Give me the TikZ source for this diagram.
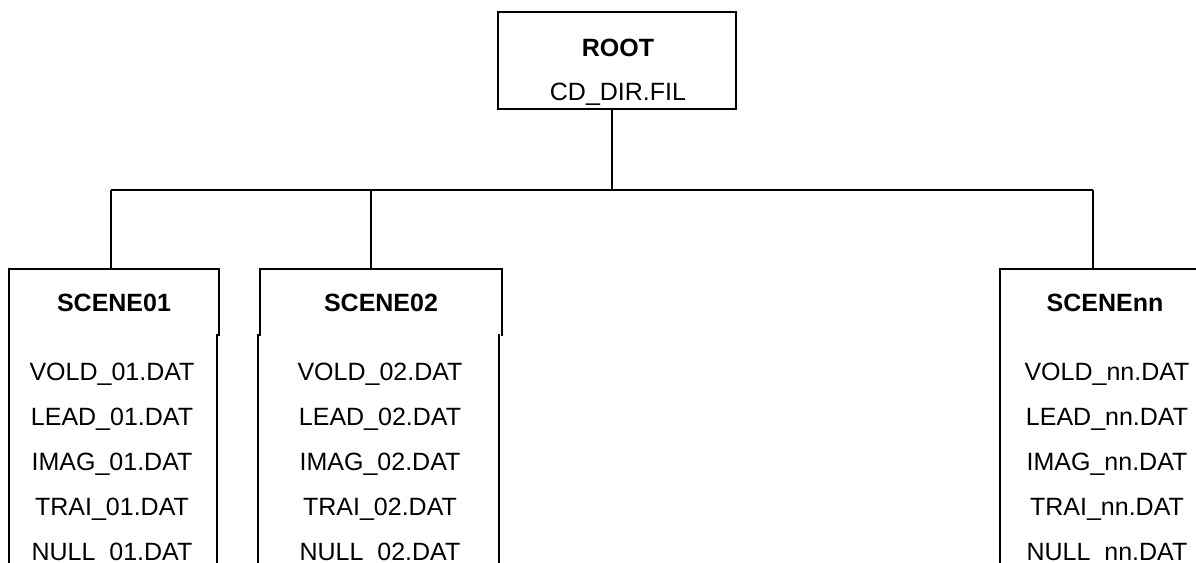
\documentclass[tikz,border=0pt]{standalone}
\usepackage{fontspec}
\setmainfont{Liberation Sans}
\usetikzlibrary{positioning}

\def\fs{\fontsize{12.5}{15}\selectfont}

\begin{document}
\begin{tikzpicture}[x=0.5pt, y=-0.5pt, line width=1.1pt,
  every node/.style={font=\fs, inner sep=0pt},
  hdr/.style={minimum height=32.5pt, font=\fs\bfseries},
  lst/.style={minimum height=120pt},
  txt/.style={anchor=base}]

  \useasboundingbox (0,0) rectangle (1196,563);

  % Root directory
  \node[draw, minimum width=119pt, minimum height=48.5pt] (root) at (617, 60.5) {};
  \node[txt, font=\fs\bfseries] (root-name) at (618, 56) {ROOT};
  \node[txt] (root-file) at (618, 100) {CD\_DIR.FIL};

  % Scene headers (open at the bottom)
  \node[hdr, minimum width=104pt] (sc1) at (114, 302.5) {SCENE01};
  \node[hdr, minimum width=120pt] (sc2) at (381, 302.5) {SCENE02};
  \node[hdr, minimum width=104pt] (scn) at (1105, 302.5) {SCENEnn};
  \foreach \s in {sc1, sc2, scn}
    \draw (\s.south west) |- (\s.north east) -- (\s.south east);

  % File lists (run off the bottom edge)
  \node[lst, minimum width=103pt] (ls1) at (113, 455) {};
  \node[lst, minimum width=119.5pt] (ls2) at (378.5, 455) {};
  \node[lst, minimum width=104pt] (lsn) at (1105, 455) {};
  \foreach \s in {ls1, ls2, lsn}
    \draw (\s.north west) -- (\s.south west) (\s.north east) -- (\s.south east);

  \foreach \f [count=\i from 0] in {VOLD, LEAD, IMAG, TRAI, NULL} {
    \node[txt] (f1-\i) at (112, 380+45*\i) {\f\_01.DAT};
    \node[txt] (f2-\i) at (380, 380+45*\i) {\f\_02.DAT};
    \node[txt] (fn-\i) at (1107, 380+45*\i) {\f\_nn.DAT};
  }

  % Tree lines
  \coordinate (bus) at (612, 190);
  \coordinate (j1) at (111, 190);
  \coordinate (j2) at (371, 190);
  \coordinate (jn) at (1093, 190);
  \draw (bus |- root.south) -- (bus);
  \draw (j1) -- (jn);
  \draw (j1) -- (j1 |- sc1.north);
  \draw (j2) -- (j2 |- sc2.north);
  \draw (jn) -- (jn |- scn.north);

\end{tikzpicture}
\end{document}
